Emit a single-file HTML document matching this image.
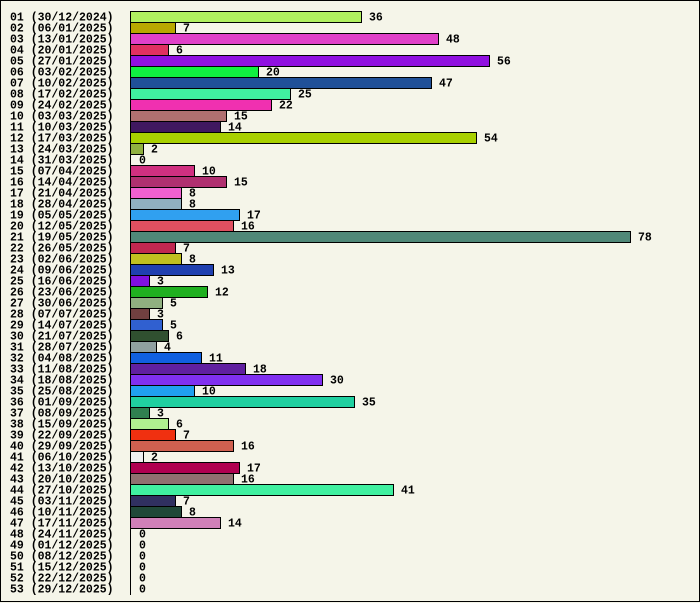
<!DOCTYPE html>
<html><head><style>html,body{margin:0;padding:0;background:#f5f5e9;}svg{display:block}text{font-family:"Liberation Mono","DejaVu Sans Mono",monospace;font-weight:bold;font-size:11.5px;fill:#000}</style></head><body>
<svg width="700" height="603" xmlns="http://www.w3.org/2000/svg">
<rect x="0.5" y="0.5" width="699" height="601" fill="#f5f5e9" stroke="#000"/>
<g stroke="#000" stroke-width="1">
<rect x="130.5" y="11.5" width="231" height="11" fill="#b0f060"/>
<rect x="130.5" y="22.5" width="45" height="11" fill="#b8a800"/>
<rect x="130.5" y="33.5" width="308" height="11" fill="#e040c8"/>
<rect x="130.5" y="44.5" width="38" height="11" fill="#e03060"/>
<rect x="130.5" y="55.5" width="359" height="11" fill="#9010e0"/>
<rect x="130.5" y="66.5" width="128" height="11" fill="#10f040"/>
<rect x="130.5" y="77.5" width="301" height="11" fill="#205098"/>
<rect x="130.5" y="88.5" width="160" height="11" fill="#40f0a0"/>
<rect x="130.5" y="99.5" width="141" height="11" fill="#f030b0"/>
<rect x="130.5" y="110.5" width="96" height="11" fill="#b07070"/>
<rect x="130.5" y="121.5" width="90" height="11" fill="#401860"/>
<rect x="130.5" y="132.5" width="346" height="11" fill="#a8d000"/>
<rect x="130.5" y="143.5" width="13" height="11" fill="#90b040"/>
<rect x="130.5" y="165.5" width="64" height="11" fill="#d03080"/>
<rect x="130.5" y="176.5" width="96" height="11" fill="#b03070"/>
<rect x="130.5" y="187.5" width="51" height="11" fill="#f060d0"/>
<rect x="130.5" y="198.5" width="51" height="11" fill="#90b0c0"/>
<rect x="130.5" y="209.5" width="109" height="11" fill="#30a0f0"/>
<rect x="130.5" y="220.5" width="103" height="11" fill="#e05060"/>
<rect x="130.5" y="231.5" width="500" height="11" fill="#508878"/>
<rect x="130.5" y="242.5" width="45" height="11" fill="#c02850"/>
<rect x="130.5" y="253.5" width="51" height="11" fill="#c0c020"/>
<rect x="130.5" y="264.5" width="83" height="11" fill="#2040b0"/>
<rect x="130.5" y="275.5" width="19" height="11" fill="#8010e0"/>
<rect x="130.5" y="286.5" width="77" height="11" fill="#20b020"/>
<rect x="130.5" y="297.5" width="32" height="11" fill="#90b080"/>
<rect x="130.5" y="308.5" width="19" height="11" fill="#704040"/>
<rect x="130.5" y="319.5" width="32" height="11" fill="#3060d0"/>
<rect x="130.5" y="330.5" width="38" height="11" fill="#305030"/>
<rect x="130.5" y="341.5" width="26" height="11" fill="#90a0a0"/>
<rect x="130.5" y="352.5" width="71" height="11" fill="#1060e0"/>
<rect x="130.5" y="363.5" width="115" height="11" fill="#6020a0"/>
<rect x="130.5" y="374.5" width="192" height="11" fill="#8030f0"/>
<rect x="130.5" y="385.5" width="64" height="11" fill="#20a0f0"/>
<rect x="130.5" y="396.5" width="224" height="11" fill="#20d0a0"/>
<rect x="130.5" y="407.5" width="19" height="11" fill="#308050"/>
<rect x="130.5" y="418.5" width="38" height="11" fill="#b0f090"/>
<rect x="130.5" y="429.5" width="45" height="11" fill="#f03010"/>
<rect x="130.5" y="440.5" width="103" height="11" fill="#d06050"/>
<rect x="130.5" y="451.5" width="13" height="11" fill="#f0f0f0"/>
<rect x="130.5" y="462.5" width="109" height="11" fill="#b00050"/>
<rect x="130.5" y="473.5" width="103" height="11" fill="#907070"/>
<rect x="130.5" y="484.5" width="263" height="11" fill="#40f0a0"/>
<rect x="130.5" y="495.5" width="45" height="11" fill="#303060"/>
<rect x="130.5" y="506.5" width="51" height="11" fill="#204838"/>
<rect x="130.5" y="517.5" width="90" height="11" fill="#d080b8"/>
</g>
<line x1="130.5" y1="11" x2="130.5" y2="595" stroke="#000"/>
<g>
<text x="10" y="20.5">01 (30/12/2024)</text><text x="369" y="20.5">36</text>
<text x="10" y="31.5">02 (06/01/2025)</text><text x="183" y="31.5">7</text>
<text x="10" y="42.5">03 (13/01/2025)</text><text x="446" y="42.5">48</text>
<text x="10" y="53.5">04 (20/01/2025)</text><text x="176" y="53.5">6</text>
<text x="10" y="64.5">05 (27/01/2025)</text><text x="497" y="64.5">56</text>
<text x="10" y="75.5">06 (03/02/2025)</text><text x="266" y="75.5">20</text>
<text x="10" y="86.5">07 (10/02/2025)</text><text x="439" y="86.5">47</text>
<text x="10" y="97.5">08 (17/02/2025)</text><text x="298" y="97.5">25</text>
<text x="10" y="108.5">09 (24/02/2025)</text><text x="279" y="108.5">22</text>
<text x="10" y="119.5">10 (03/03/2025)</text><text x="234" y="119.5">15</text>
<text x="10" y="130.5">11 (10/03/2025)</text><text x="228" y="130.5">14</text>
<text x="10" y="141.5">12 (17/03/2025)</text><text x="484" y="141.5">54</text>
<text x="10" y="152.5">13 (24/03/2025)</text><text x="151" y="152.5">2</text>
<text x="10" y="163.5">14 (31/03/2025)</text><text x="139" y="163.5">0</text>
<text x="10" y="174.5">15 (07/04/2025)</text><text x="202" y="174.5">10</text>
<text x="10" y="185.5">16 (14/04/2025)</text><text x="234" y="185.5">15</text>
<text x="10" y="196.5">17 (21/04/2025)</text><text x="189" y="196.5">8</text>
<text x="10" y="207.5">18 (28/04/2025)</text><text x="189" y="207.5">8</text>
<text x="10" y="218.5">19 (05/05/2025)</text><text x="247" y="218.5">17</text>
<text x="10" y="229.5">20 (12/05/2025)</text><text x="241" y="229.5">16</text>
<text x="10" y="240.5">21 (19/05/2025)</text><text x="638" y="240.5">78</text>
<text x="10" y="251.5">22 (26/05/2025)</text><text x="183" y="251.5">7</text>
<text x="10" y="262.5">23 (02/06/2025)</text><text x="189" y="262.5">8</text>
<text x="10" y="273.5">24 (09/06/2025)</text><text x="221" y="273.5">13</text>
<text x="10" y="284.5">25 (16/06/2025)</text><text x="157" y="284.5">3</text>
<text x="10" y="295.5">26 (23/06/2025)</text><text x="215" y="295.5">12</text>
<text x="10" y="306.5">27 (30/06/2025)</text><text x="170" y="306.5">5</text>
<text x="10" y="317.5">28 (07/07/2025)</text><text x="157" y="317.5">3</text>
<text x="10" y="328.5">29 (14/07/2025)</text><text x="170" y="328.5">5</text>
<text x="10" y="339.5">30 (21/07/2025)</text><text x="176" y="339.5">6</text>
<text x="10" y="350.5">31 (28/07/2025)</text><text x="164" y="350.5">4</text>
<text x="10" y="361.5">32 (04/08/2025)</text><text x="209" y="361.5">11</text>
<text x="10" y="372.5">33 (11/08/2025)</text><text x="253" y="372.5">18</text>
<text x="10" y="383.5">34 (18/08/2025)</text><text x="330" y="383.5">30</text>
<text x="10" y="394.5">35 (25/08/2025)</text><text x="202" y="394.5">10</text>
<text x="10" y="405.5">36 (01/09/2025)</text><text x="362" y="405.5">35</text>
<text x="10" y="416.5">37 (08/09/2025)</text><text x="157" y="416.5">3</text>
<text x="10" y="427.5">38 (15/09/2025)</text><text x="176" y="427.5">6</text>
<text x="10" y="438.5">39 (22/09/2025)</text><text x="183" y="438.5">7</text>
<text x="10" y="449.5">40 (29/09/2025)</text><text x="241" y="449.5">16</text>
<text x="10" y="460.5">41 (06/10/2025)</text><text x="151" y="460.5">2</text>
<text x="10" y="471.5">42 (13/10/2025)</text><text x="247" y="471.5">17</text>
<text x="10" y="482.5">43 (20/10/2025)</text><text x="241" y="482.5">16</text>
<text x="10" y="493.5">44 (27/10/2025)</text><text x="401" y="493.5">41</text>
<text x="10" y="504.5">45 (03/11/2025)</text><text x="183" y="504.5">7</text>
<text x="10" y="515.5">46 (10/11/2025)</text><text x="189" y="515.5">8</text>
<text x="10" y="526.5">47 (17/11/2025)</text><text x="228" y="526.5">14</text>
<text x="10" y="537.5">48 (24/11/2025)</text><text x="139" y="537.5">0</text>
<text x="10" y="548.5">49 (01/12/2025)</text><text x="139" y="548.5">0</text>
<text x="10" y="559.5">50 (08/12/2025)</text><text x="139" y="559.5">0</text>
<text x="10" y="570.5">51 (15/12/2025)</text><text x="139" y="570.5">0</text>
<text x="10" y="581.5">52 (22/12/2025)</text><text x="139" y="581.5">0</text>
<text x="10" y="592.5">53 (29/12/2025)</text><text x="139" y="592.5">0</text>
</g>
</svg>
</body></html>
